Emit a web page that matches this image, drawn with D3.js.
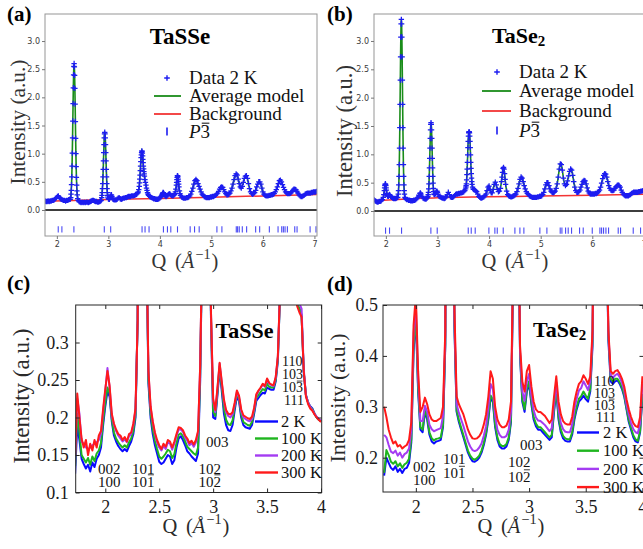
<!DOCTYPE html>
<html>
<head>
<meta charset="utf-8">
<script src="https://cdn.jsdelivr.net/npm/d3@7"></script>
<style>
  body { margin: 0; background: #fff; }
  svg { display: block; }
</style>
</head>
<body>
<svg id="fig" width="643" height="549"></svg>
<script>
// ---------- Rietveld refinement, 2 K : TaSSe ----------
const tasseObs = [
[1.77,.16],[1.79,.15],[1.81,.15],[1.83,.16],[1.85,.15],[1.87,.16],[1.89,.16],[1.91,.17],[1.93,.17],[1.95,.18],
[1.97,.20],[1.99,.22],[2.01,.24],[2.03,.25],[2.05,.22],[2.07,.20],[2.09,.19],[2.11,.18],[2.13,.17],[2.15,.17],
[2.17,.16],[2.19,.17],[2.21,.17],[2.23,.18],[2.25,.19],[2.26,.19],[2.27,.22],[2.275,.28],[2.28,.35],[2.285,.45],
[2.29,.59],[2.295,.78],[2.30,1.01],[2.305,1.28],[2.31,1.58],[2.315,1.89],[2.32,2.17],[2.325,2.40],[2.33,2.55],[2.335,2.60],
[2.34,2.54],[2.345,2.39],[2.35,2.16],[2.355,1.88],[2.36,1.57],[2.365,1.27],[2.37,1.00],[2.375,.77],[2.38,.58],[2.385,.44],
[2.39,.34],[2.395,.27],[2.405,.20],[2.415,.17],[2.43,.15],[2.45,.14],[2.47,.13],[2.49,.14],[2.51,.13],[2.53,.14],
[2.55,.13],[2.57,.14],[2.59,.14],[2.61,.13],[2.63,.14],[2.65,.15],[2.67,.16],[2.69,.17],[2.71,.17],[2.73,.16],
[2.75,.15],[2.77,.15],[2.79,.14],[2.81,.14],[2.83,.15],[2.85,.16],[2.86,.17],[2.87,.22],[2.875,.26],[2.88,.31],
[2.885,.38],[2.89,.47],[2.895,.59],[2.90,.72],[2.905,.87],[2.91,1.02],[2.915,1.16],[2.92,1.28],[2.925,1.35],[2.93,1.38],
[2.935,1.35],[2.94,1.28],[2.945,1.16],[2.95,1.02],[2.955,.87],[2.96,.72],[2.965,.59],[2.97,.47],[2.975,.38],[2.98,.31],
[2.985,.26],[2.99,.23],[3.00,.20],[3.01,.19],[3.02,.19],[3.03,.21],[3.04,.24],[3.05,.27],[3.06,.27],[3.07,.24],
[3.08,.21],[3.09,.19],[3.11,.18],[3.13,.18],[3.15,.18],[3.17,.19],[3.19,.21],[3.21,.22],[3.23,.20],[3.25,.19],
[3.27,.20],[3.29,.21],[3.31,.21],[3.33,.22],[3.35,.22],[3.37,.23],[3.39,.24],[3.41,.24],[3.43,.24],[3.45,.25],
[3.47,.25],[3.49,.25],[3.51,.26],[3.53,.27],[3.55,.28],[3.57,.30],[3.58,.32],[3.59,.36],[3.60,.42],[3.605,.48],
[3.61,.55],[3.615,.62],[3.62,.70],[3.625,.78],[3.63,.86],[3.635,.93],[3.64,.98],[3.645,1.02],[3.65,1.05],[3.655,1.04],
[3.66,1.01],[3.665,.96],[3.67,.90],[3.675,.84],[3.68,.78],[3.685,.73],[3.69,.68],[3.695,.64],[3.70,.60],[3.71,.54],
[3.72,.49],[3.73,.44],[3.74,.39],[3.75,.35],[3.76,.31],[3.77,.28],[3.78,.26],[3.80,.24],[3.82,.23],[3.84,.22],
[3.86,.21],[3.88,.20],[3.90,.20],[3.92,.19],[3.94,.19],[3.96,.19],[3.98,.20],[4.00,.21],[4.02,.23],[4.03,.25],
[4.04,.27],[4.05,.29],[4.06,.31],[4.07,.31],[4.08,.29],[4.09,.27],[4.10,.25],[4.12,.24],[4.14,.25],[4.16,.27],
[4.18,.29],[4.20,.28],[4.22,.26],[4.24,.25],[4.26,.25],[4.28,.27],[4.29,.29],[4.30,.32],[4.31,.37],[4.32,.44],
[4.325,.49],[4.33,.54],[4.335,.58],[4.34,.61],[4.345,.61],[4.35,.59],[4.355,.55],[4.36,.51],[4.365,.46],[4.37,.41],
[4.38,.34],[4.39,.29],[4.40,.26],[4.42,.23],[4.44,.22],[4.46,.21],[4.48,.21],[4.50,.21],[4.52,.22],[4.54,.22],
[4.56,.23],[4.58,.25],[4.60,.28],[4.62,.33],[4.64,.39],[4.66,.46],[4.68,.52],[4.70,.54],[4.72,.52],[4.74,.47],
[4.76,.42],[4.78,.37],[4.80,.32],[4.82,.28],[4.84,.26],[4.86,.24],[4.88,.23],[4.90,.22],[4.92,.22],[4.94,.22],
[4.96,.22],[4.98,.23],[5.00,.23],[5.02,.24],[5.04,.24],[5.06,.25],[5.08,.26],[5.10,.28],[5.12,.30],[5.14,.33],
[5.16,.37],[5.18,.40],[5.20,.41],[5.22,.40],[5.24,.36],[5.26,.32],[5.28,.29],[5.30,.27],[5.32,.27],[5.34,.28],
[5.36,.30],[5.38,.34],[5.40,.39],[5.42,.46],[5.44,.54],[5.46,.61],[5.48,.64],[5.50,.62],[5.52,.55],[5.54,.47],
[5.56,.41],[5.58,.39],[5.60,.42],[5.62,.49],[5.64,.56],[5.66,.60],[5.68,.61],[5.70,.56],[5.72,.47],[5.74,.38],
[5.76,.32],[5.78,.29],[5.80,.28],[5.82,.29],[5.84,.31],[5.86,.35],[5.88,.41],[5.90,.46],[5.92,.50],[5.94,.50],
[5.96,.46],[5.98,.39],[6.00,.32],[6.02,.28],[6.04,.26],[6.06,.25],[6.08,.25],[6.10,.25],[6.12,.26],[6.14,.26],
[6.16,.27],[6.18,.27],[6.20,.28],[6.22,.29],[6.24,.32],[6.26,.36],[6.28,.41],[6.30,.47],[6.32,.52],[6.34,.53],
[6.36,.50],[6.38,.45],[6.40,.40],[6.42,.36],[6.44,.32],[6.46,.30],[6.48,.29],[6.50,.29],[6.52,.29],[6.54,.30],
[6.56,.32],[6.58,.35],[6.60,.37],[6.62,.37],[6.64,.36],[6.66,.33],[6.68,.30],[6.70,.27],[6.72,.25],[6.74,.24],
[6.76,.24],[6.78,.25],[6.80,.26],[6.82,.28],[6.84,.29],[6.86,.30],[6.88,.30],[6.90,.30],[6.92,.30],[6.94,.31],
[6.96,.31],[6.98,.32],[7.00,.32],[7.02,.32],[7.04,.33]
];
const tasseBackground = [[1.77,.155],[3,.185],[4,.205],[5,.225],[6,.25],[7.05,.275]];
const tasseBragg = [2.027,2.098,2.331,2.921,3.045,3.654,3.712,3.790,4.069,4.147,4.212,4.342,4.588,4.673,4.763,
  5.107,5.204,5.483,5.509,5.541,5.600,5.684,5.859,5.937,6.125,6.294,6.365,6.397,6.430,6.475,6.618,6.663,6.916,7.030];

// ---------- Rietveld refinement, 2 K : TaSe2 ----------
const tase2Obs = [
[1.77,.20],[1.79,.18],[1.81,.17],[1.83,.16],[1.85,.16],[1.87,.17],[1.89,.17],[1.91,.18],[1.93,.20],[1.95,.24],
[1.96,.29],[1.97,.36],[1.975,.41],[1.98,.45],[1.985,.47],[1.99,.48],[1.995,.47],[2.00,.45],[2.005,.41],[2.01,.37],
[2.02,.31],[2.03,.27],[2.04,.26],[2.05,.26],[2.06,.28],[2.07,.29],[2.08,.28],[2.09,.26],[2.11,.24],[2.13,.23],
[2.15,.22],[2.17,.22],[2.19,.22],[2.21,.23],[2.225,.24],[2.23,.24],[2.24,.30],[2.245,.36],[2.25,.46],[2.255,.61],
[2.26,.82],[2.265,1.11],[2.27,1.47],[2.275,1.88],[2.28,2.31],[2.285,2.72],[2.29,3.07],[2.295,3.30],[2.30,3.38],[2.305,3.30],
[2.31,3.07],[2.315,2.72],[2.32,2.31],[2.325,1.88],[2.33,1.47],[2.335,1.11],[2.34,.82],[2.345,.61],[2.35,.46],[2.355,.36],
[2.36,.30],[2.37,.24],[2.38,.22],[2.40,.20],[2.42,.20],[2.44,.19],[2.46,.19],[2.48,.18],[2.50,.18],[2.52,.18],
[2.54,.19],[2.56,.19],[2.58,.20],[2.60,.22],[2.62,.24],[2.64,.28],[2.66,.31],[2.67,.32],[2.68,.30],[2.70,.26],
[2.72,.23],[2.74,.22],[2.76,.21],[2.78,.21],[2.80,.23],[2.81,.25],[2.815,.26],[2.82,.29],[2.825,.33],[2.83,.39],
[2.835,.48],[2.84,.61],[2.845,.76],[2.85,.93],[2.855,1.11],[2.86,1.28],[2.865,1.43],[2.87,1.53],[2.875,1.56],[2.88,1.53],
[2.885,1.43],[2.89,1.28],[2.895,1.11],[2.90,.93],[2.905,.76],[2.91,.61],[2.915,.49],[2.92,.40],[2.925,.34],[2.93,.30],
[2.94,.29],[2.95,.29],[2.96,.31],[2.97,.33],[2.98,.35],[2.99,.35],[3.00,.33],[3.01,.30],[3.03,.26],[3.05,.25],
[3.07,.24],[3.09,.23],[3.11,.23],[3.13,.22],[3.15,.23],[3.17,.25],[3.19,.29],[3.21,.33],[3.23,.29],[3.25,.25],
[3.27,.24],[3.29,.24],[3.31,.25],[3.33,.27],[3.35,.29],[3.37,.30],[3.39,.30],[3.41,.31],[3.43,.31],[3.45,.32],
[3.47,.32],[3.49,.33],[3.51,.34],[3.53,.36],[3.545,.39],[3.55,.42],[3.555,.45],[3.56,.48],[3.565,.55],[3.57,.64],
[3.575,.74],[3.58,.86],[3.585,.99],[3.59,1.12],[3.595,1.23],[3.60,1.32],[3.605,1.38],[3.61,1.40],[3.615,1.40],[3.62,1.38],
[3.625,1.32],[3.63,1.23],[3.635,1.12],[3.64,.99],[3.645,.86],[3.65,.75],[3.655,.66],[3.66,.58],[3.665,.52],[3.67,.47],
[3.68,.42],[3.69,.39],[3.70,.38],[3.72,.37],[3.74,.36],[3.76,.34],[3.78,.30],[3.80,.26],[3.82,.24],[3.84,.23],
[3.86,.23],[3.88,.24],[3.90,.25],[3.92,.27],[3.94,.30],[3.96,.36],[3.98,.42],[4.00,.44],[4.02,.38],[4.04,.32],
[4.06,.32],[4.08,.38],[4.10,.47],[4.12,.51],[4.14,.46],[4.16,.38],[4.18,.34],[4.20,.35],[4.22,.40],[4.24,.52],
[4.25,.60],[4.26,.68],[4.27,.75],[4.28,.77],[4.29,.74],[4.30,.66],[4.31,.56],[4.32,.47],[4.34,.35],[4.36,.29],
[4.38,.27],[4.40,.26],[4.42,.25],[4.44,.25],[4.46,.26],[4.48,.27],[4.50,.28],[4.52,.30],[4.54,.34],[4.56,.40],
[4.58,.48],[4.60,.56],[4.62,.60],[4.64,.58],[4.66,.52],[4.68,.45],[4.70,.39],[4.72,.34],[4.74,.31],[4.76,.29],
[4.78,.27],[4.80,.26],[4.82,.25],[4.84,.24],[4.86,.24],[4.88,.24],[4.90,.24],[4.92,.24],[4.94,.25],[4.96,.25],
[4.98,.26],[5.00,.26],[5.02,.27],[5.04,.29],[5.06,.33],[5.08,.39],[5.10,.46],[5.12,.50],[5.14,.50],[5.16,.45],
[5.18,.39],[5.20,.35],[5.22,.33],[5.24,.32],[5.26,.33],[5.28,.35],[5.30,.40],[5.32,.48],[5.34,.60],[5.36,.74],
[5.38,.83],[5.40,.82],[5.42,.72],[5.44,.58],[5.46,.48],[5.48,.45],[5.50,.47],[5.52,.53],[5.54,.62],[5.56,.70],
[5.58,.74],[5.60,.72],[5.62,.63],[5.64,.52],[5.66,.42],[5.68,.36],[5.70,.33],[5.72,.33],[5.74,.34],[5.76,.37],
[5.78,.42],[5.80,.47],[5.82,.52],[5.84,.54],[5.86,.53],[5.88,.48],[5.90,.41],[5.92,.35],[5.94,.32],[5.96,.30],
[5.98,.30],[6.00,.30],[6.02,.30],[6.04,.30],[6.06,.31],[6.08,.31],[6.10,.32],[6.12,.34],[6.14,.37],[6.16,.42],
[6.18,.49],[6.20,.57],[6.22,.63],[6.24,.66],[6.26,.65],[6.28,.60],[6.30,.52],[6.32,.45],[6.34,.40],[6.36,.37],
[6.38,.36],[6.40,.36],[6.42,.37],[6.44,.40],[6.46,.43],[6.48,.45],[6.50,.46],[6.52,.45],[6.54,.42],[6.56,.37],
[6.58,.33],[6.60,.30],[6.62,.28],[6.64,.27],[6.66,.27],[6.68,.27],[6.70,.27],[6.72,.28],[6.74,.29],[6.76,.31],
[6.78,.32],[6.80,.33],[6.82,.33],[6.84,.33],[6.86,.33],[6.88,.33],[6.90,.34],[6.92,.34],[6.94,.35],[6.96,.35],
[6.98,.36],[7.00,.36],[7.02,.37],[7.04,.37]
];
const tase2Background = [[1.77,.18],[2.5,.215],[3,.235],[4,.25],[5,.265],[6,.28],[7.05,.295]];
const tase2Bragg = [1.994,2.071,2.304,2.872,2.995,3.596,3.654,3.731,3.996,4.112,4.158,4.274,4.500,4.597,4.674,
  4.984,5.120,5.378,5.411,5.482,5.533,5.598,5.753,5.824,5.999,6.147,6.180,6.218,6.264,6.315,6.502,6.547,6.793,6.935];

const refTicksX = [2, 3, 4, 5, 6, 7];
const refTicksY = [0, 0.5, 1.0, 1.5, 2.0, 2.5, 3.0];
const refLegendLabels = ["Data 2 K", "Average model", "Background"];

// ---------- temperature dependence (common Q grid, step 0.02 from 1.72 to 4.00) ----------
const qGrid = d3.range(115).map(i => +(1.72 + 0.02 * i).toFixed(2));
const tempLabels = ["2 K", "100 K", "200 K", "300 K"];

const tasse2K = [.125,.190,.170,.145,.138,.132,.137,.128,.140,.134,.145,.150,.160,.190,.215,.235,.228,.195,.176,.168,
  .162,.158,.155,.158,.155,.162,.168,.178,.200,.330,1.2,2.5,1.3,.450,.245,.200,.178,.163,.152,.141,
  .138,.140,.145,.150,.148,.138,.143,.160,.172,.175,.170,.163,.155,.152,.148,.145,.142,.152,.250,.450,
  1.3,1.1,.550,.330,.200,.198,.230,.265,.235,.205,.190,.183,.182,.190,.210,.228,.222,.200,.190,.187,
  .186,.185,.190,.205,.222,.226,.230,.233,.232,.240,.238,.237,.237,.248,.275,.365,.800,1.0,.850,.650,
  .500,.420,.370,.350,.345,.335,.260,.230,.220,.215,.212,.205,.200,.197,.195];
const tasse100K = [.135,.205,.180,.150,.145,.140,.146,.137,.148,.142,.152,.156,.166,.195,.220,.240,.232,.198,.180,.172,
  .167,.163,.160,.163,.160,.167,.172,.182,.204,.330,1.2,2.5,1.3,.450,.250,.205,.184,.169,.158,.148,
  .145,.148,.152,.157,.155,.146,.151,.166,.177,.179,.175,.168,.161,.158,.155,.152,.150,.160,.260,.450,
  1.3,1.1,.550,.335,.208,.202,.234,.268,.240,.212,.197,.191,.190,.196,.214,.231,.225,.204,.194,.192,
  .190,.189,.194,.208,.226,.230,.234,.238,.236,.245,.241,.240,.240,.250,.278,.365,.800,1.0,.850,.650,
  .500,.420,.370,.350,.346,.337,.262,.230,.220,.214,.211,.205,.200,.197,.195];
const tasse200K = [.140,.225,.205,.168,.165,.160,.158,.160,.163,.165,.167,.170,.178,.208,.236,.266,.240,.203,.190,.182,
  .176,.172,.168,.171,.167,.175,.178,.190,.210,.330,1.2,2.5,1.3,.450,.260,.213,.193,.178,.167,.160,
  .156,.162,.158,.167,.165,.157,.165,.175,.184,.184,.181,.173,.169,.163,.166,.161,.167,.180,.270,.450,
  1.3,1.1,.550,.340,.222,.207,.238,.272,.246,.221,.207,.202,.200,.204,.217,.234,.227,.208,.200,.198,
  .196,.195,.198,.211,.229,.235,.239,.244,.241,.251,.245,.243,.242,.253,.281,.370,.800,1.0,.850,.650,
  .500,.420,.375,.355,.352,.345,.265,.230,.220,.214,.210,.205,.201,.198,.196];
const tasse300K = [.150,.232,.200,.172,.160,.170,.150,.165,.156,.170,.160,.176,.182,.212,.238,.262,.242,.205,.192,.184,
  .178,.176,.170,.174,.168,.178,.180,.192,.212,.330,1.2,2.5,1.3,.450,.262,.215,.195,.180,.170,.163,
  .158,.165,.161,.170,.168,.160,.168,.178,.187,.186,.183,.176,.172,.166,.169,.164,.170,.182,.270,.450,
  1.3,1.1,.550,.340,.225,.210,.240,.273,.248,.224,.210,.205,.204,.207,.220,.236,.229,.211,.203,.201,
  .199,.198,.201,.213,.231,.236,.240,.245,.242,.252,.246,.244,.243,.254,.282,.370,.800,1.0,.850,.650,
  .500,.420,.370,.348,.340,.334,.262,.228,.218,.212,.209,.204,.200,.197,.194];

const tase22K = [.165,.200,.190,.180,.176,.183,.172,.178,.170,.178,.180,.190,.230,.410,.475,.330,.255,.250,.290,.275,
  .245,.232,.228,.232,.233,.235,.260,.420,1.75,3.38,1.95,.460,.290,.270,.255,.240,.225,.210,.200,.193,
  .192,.195,.200,.210,.225,.245,.275,.317,.310,.260,.235,.222,.218,.218,.222,.235,.270,.580,1.55,.780,
  .400,.310,.290,.330,.345,.305,.275,.262,.255,.255,.250,.245,.240,.235,.240,.290,.332,.275,.250,.238,
  .233,.232,.232,.245,.275,.295,.310,.315,.322,.315,.310,.330,.420,.880,1.28,1.36,1.18,.880,.680,.430,
  .350,.345,.350,.352,.345,.335,.320,.295,.270,.255,.240,.232,.230,.250,.320];
const tase2100K = [.170,.215,.205,.192,.188,.193,.183,.189,.180,.187,.190,.198,.237,.420,.480,.338,.260,.255,.295,.280,
  .250,.238,.234,.237,.238,.240,.265,.425,1.76,3.38,1.96,.470,.293,.274,.259,.244,.229,.214,.204,.198,
  .196,.199,.204,.214,.229,.249,.280,.322,.315,.265,.240,.227,.223,.223,.227,.240,.275,.580,1.56,.785,
  .405,.315,.295,.335,.350,.310,.280,.267,.260,.260,.255,.250,.245,.240,.245,.295,.336,.280,.255,.243,
  .238,.236,.236,.250,.280,.300,.316,.321,.330,.322,.316,.336,.430,.885,1.285,1.365,1.185,.885,.685,.440,
  .355,.350,.355,.355,.348,.338,.323,.298,.274,.259,.244,.236,.233,.253,.325];
const tase2200K = [.245,.240,.225,.212,.209,.214,.204,.210,.200,.207,.210,.218,.255,.445,.500,.355,.272,.272,.302,.290,
  .265,.256,.252,.254,.256,.258,.282,.440,1.78,3.39,1.98,.480,.305,.288,.275,.262,.247,.232,.222,.215,
  .213,.215,.220,.228,.243,.262,.297,.345,.335,.282,.255,.245,.240,.240,.243,.255,.290,.590,1.58,.790,
  .410,.330,.312,.350,.365,.322,.293,.279,.273,.272,.268,.264,.258,.252,.258,.305,.348,.295,.268,.256,
  .251,.250,.250,.265,.295,.316,.332,.337,.350,.342,.333,.350,.440,.890,1.29,1.37,1.19,.890,.690,.445,
  .362,.357,.362,.365,.358,.347,.332,.305,.285,.268,.256,.250,.248,.268,.345];
const tase2300K = [.300,.280,.255,.240,.228,.232,.222,.225,.218,.222,.225,.235,.270,.460,.520,.370,.290,.300,.318,.305,
  .285,.275,.272,.272,.275,.278,.300,.450,1.80,3.40,2.00,.500,.320,.305,.295,.285,.270,.255,.245,.238,
  .237,.238,.242,.250,.265,.285,.320,.370,.355,.300,.275,.265,.260,.260,.263,.275,.310,.600,1.60,.800,
  .420,.350,.330,.370,.382,.340,.310,.295,.290,.290,.286,.282,.275,.268,.275,.320,.360,.310,.285,.272,
  .267,.265,.265,.280,.310,.330,.345,.350,.362,.355,.345,.360,.450,.900,1.30,1.38,1.20,.900,.700,.450,
  .370,.365,.370,.372,.365,.355,.340,.315,.295,.280,.268,.262,.260,.280,.360];

const hklTaSSe = { low: [["002","100"], ["101","10-1"], ["102","10-2"]], single: ["003"], high: ["110","103","10-3","111"] };
const hklTaSe2 = { low: [["002","100"], ["101","10-1"], ["102","10-2"]], single: ["003"], high: ["110","103","10-3","111"] };

// ---------- drawing ----------
const svg = d3.select("#fig");
const SERIF = '"Liberation Serif", "Times New Roman", Times, serif';
const SANS = '"DejaVu Sans", sans-serif';
const TEMP_COLORS = ["#0a0aff", "#1fb51f", "#a43cf2", "#ff1a1a"];
let clipCount = 0;

function addClip(x0, y0, w, h) {
  const id = "clip" + (clipCount++);
  svg.append("clipPath").attr("id", id).append("rect")
    .attr("x", x0).attr("y", y0).attr("width", w).attr("height", h);
  return "url(#" + id + ")";
}

// draws an overline above selected characters of a text element
function overline(g, textSel, indices, baseY, size, color) {
  const node = textSel.node();
  indices.forEach(k => {
    const r = node.getExtentOfChar(k);
    g.append("line")
      .attr("x1", r.x + size * 0.06).attr("x2", r.x + r.width - size * 0.04)
      .attr("y1", baseY - size * 0.78).attr("y2", baseY - size * 0.78)
      .attr("stroke", color).attr("stroke-width", Math.max(0.8, size * 0.055));
  });
}

// Miller index label: "-" before a digit puts a bar over that digit
function hklLabel(g, x, y, str, size) {
  let plain = "", bars = [];
  for (let i = 0; i < str.length; i++) {
    if (str[i] === "-") { i++; bars.push(plain.length); }
    plain += str[i];
  }
  const t = g.append("text").attr("x", x).attr("y", y)
    .attr("font-family", SERIF).attr("font-size", size).attr("fill", "#111").text(plain);
  overline(g, t, bars, y, size, "#111");
}

function qLabel(g, cx, by, size, fill) {
  const t = g.append("text").attr("x", cx).attr("y", by).attr("text-anchor", "middle")
    .attr("font-family", SERIF).attr("font-size", size).attr("fill", fill);
  t.append("tspan").text("Q");
  t.append("tspan").attr("dx", size * 0.42).text("(");
  t.append("tspan").attr("font-style", "italic").text("\u00C5");
  t.append("tspan").attr("font-size", size * 0.7).attr("dy", -size * 0.42).attr("dx", 1).text("\u22121");
  t.append("tspan").attr("dy", size * 0.42).attr("dx", 1).text(")");
}

function yLabel(g, x, cy, size, fill) {
  g.append("text").attr("transform", `translate(${x},${cy}) rotate(-90)`)
    .attr("text-anchor", "middle").attr("font-family", SERIF).attr("font-size", size)
    .attr("fill", fill).text("Intensity (a.u.)");
}

function compound(g, x, y, size, anchor, name, sub) {
  const t = g.append("text").attr("x", x).attr("y", y).attr("text-anchor", anchor)
    .attr("font-family", SERIF).attr("font-weight", "bold").attr("font-size", size).attr("fill", "#000");
  t.append("tspan").text(name);
  if (sub) t.append("tspan").attr("font-size", size * 0.68).attr("dy", size * 0.14).text(sub);
}

function panelLetter(x, y, s) {
  svg.append("text").attr("x", x).attr("y", y).attr("font-family", SERIF)
    .attr("font-weight", "bold").attr("font-size", 21).attr("fill", "#000").text(s);
}

// ---------- refinement panels (a), (b) ----------
function refinementPanel(o) {
  const g = svg.append("g");
  const x = d3.scaleLinear().domain([1.77, 7.05]).range([o.x0, o.x1]);
  const y = d3.scaleLinear().domain(o.yDomain).range([236, 14]);
  const clip = addClip(o.x0, 14, o.x1 - o.x0, 222);
  const body = g.append("g").attr("clip-path", clip);

  // zero line
  body.append("line").attr("x1", o.x0).attr("x2", o.x1).attr("y1", y(0)).attr("y2", y(0))
    .attr("stroke", "#3d3d3d").attr("stroke-width", 2);

  // reflection markers
  body.append("g").selectAll("line").data(o.bragg).join("line")
    .attr("x1", d => x(d)).attr("x2", d => x(d))
    .attr("y1", y(-0.29)).attr("y2", y(-0.40))
    .attr("stroke", "#4a4af5").attr("stroke-width", 1.1);

  const line = d3.line().x(d => x(d[0])).y(d => y(d[1]));
  // background
  body.append("path").attr("d", line.curve(d3.curveMonotoneX)(o.bg))
    .attr("fill", "none").attr("stroke", "#f23434").attr("stroke-width", 1.5);
  // average model
  body.append("path").attr("d", d3.line().x(d => x(d[0])).y(d => y(d[1]))(o.obs))
    .attr("fill", "none").attr("stroke", "#198c19").attr("stroke-width", 1.6);
  // observed data as "+" markers
  const a = 2.7;
  body.append("path")
    .attr("d", o.obs.map(([q, v]) => `M${x(q) - a},${y(v)}h${2 * a}M${x(q)},${y(v) - a}v${2 * a}`).join(""))
    .attr("fill", "none").attr("stroke", "#1c1cf0").attr("stroke-width", 1.25);

  // frame
  g.append("rect").attr("x", o.x0).attr("y", 14).attr("width", o.x1 - o.x0).attr("height", 222)
    .attr("fill", "none").attr("stroke", "#969696").attr("stroke-width", 1);

  // axes
  const ax = g.append("g").attr("transform", "translate(0,236)")
    .call(d3.axisBottom(x).tickValues(refTicksX).tickSize(3).tickPadding(2).tickFormat(d3.format("d")));
  const ay = g.append("g").attr("transform", `translate(${o.x0},0)`)
    .call(d3.axisLeft(y).tickValues(refTicksY).tickSize(3).tickPadding(2).tickFormat(d3.format(".1f")));
  [ax, ay].forEach(s => {
    s.select(".domain").remove();
    s.selectAll("line").attr("stroke", "#777");
    s.selectAll("text").attr("font-family", SANS).attr("font-size", 8).attr("fill", "#3a3a3a");
  });

  // legend
  const L = o.legend;
  const lg = g.append("g");
  lg.append("path").attr("d", `M${L.mx - 2.8},${L.rows[0] - 6}h5.6M${L.mx},${L.rows[0] - 8.8}v5.6`)
    .attr("stroke", "#1c1cf0").attr("stroke-width", 1.4);
  lg.append("line").attr("x1", L.l0).attr("x2", L.l1).attr("y1", L.rows[1] - 6).attr("y2", L.rows[1] - 6)
    .attr("stroke", "#198c19").attr("stroke-width", 1.8);
  lg.append("line").attr("x1", L.l0).attr("x2", L.l1).attr("y1", L.rows[2] - 6).attr("y2", L.rows[2] - 6)
    .attr("stroke", "#f23434").attr("stroke-width", 1.8);
  lg.append("line").attr("x1", L.mx).attr("x2", L.mx).attr("y1", L.rows[3] - 10.5).attr("y2", L.rows[3] - 2.5)
    .attr("stroke", "#1c1cf0").attr("stroke-width", 1.6);
  refLegendLabels.forEach((s, i) => {
    lg.append("text").attr("x", L.tx).attr("y", L.rows[i]).attr("font-family", SERIF)
      .attr("font-size", 19).attr("fill", "#111").text(s);
  });
  const sg = lg.append("text").attr("x", L.tx).attr("y", L.rows[3]).attr("font-family", SERIF)
    .attr("font-size", 19).attr("fill", "#111");
  sg.append("tspan").attr("font-style", "italic").text("P");
  sg.append("tspan").text("3");
  overline(lg, sg, [1], L.rows[3], 19, "#111");

  compound(g, o.title.x, o.title.y, o.title.size, o.title.anchor, o.title.name, o.title.sub);
  yLabel(g, o.ylab.x, o.ylab.y, o.ylab.size, "#333");
  qLabel(g, o.xlab.x, 268, 20.5, "#333");
}

refinementPanel({
  x0: 45, x1: 317, yDomain: [-0.462, 3.48],
  obs: tasseObs, bg: tasseBackground, bragg: tasseBragg,
  legend: { mx: 167, l0: 154, l1: 181, tx: 189, rows: [84, 102, 120, 138] },
  title: { x: 180, y: 44, size: 23, anchor: "middle", name: "TaSSe" },
  ylab: { x: 25, y: 122, size: 21.3 },
  xlab: { x: 185 }
});
refinementPanel({
  x0: 374, x1: 646.5, yDomain: [-0.441, 3.476],
  obs: tase2Obs, bg: tase2Background, bragg: tase2Bragg,
  legend: { mx: 497, l0: 482, l1: 511, tx: 519, rows: [78, 97, 117, 137] },
  title: { x: 492, y: 43, size: 22, anchor: "start", name: "TaSe", sub: "2" },
  ylab: { x: 352, y: 131, size: 22.5 },
  xlab: { x: 515 }
});

// ---------- temperature panels (c), (d) ----------
function temperaturePanel(o) {
  const g = svg.append("g");
  const x = d3.scaleLinear().domain(o.xDomain).range([o.x0, o.x1]);
  const y = d3.scaleLinear().domain(o.yDomain).range([o.y1, o.y0]);
  const clip = addClip(o.x0, o.y0, o.x1 - o.x0, o.y1 - o.y0);
  const body = g.append("g").attr("clip-path", clip);
  const line = d3.line().x((d, i) => x(qGrid[i])).y(d => y(d));
  o.series.forEach((s, k) => {
    body.append("path").attr("d", line(s)).attr("fill", "none")
      .attr("stroke", TEMP_COLORS[k]).attr("stroke-width", 2).attr("stroke-linejoin", "round");
  });

  g.append("rect").attr("x", o.x0).attr("y", o.y0).attr("width", o.x1 - o.x0).attr("height", o.y1 - o.y0)
    .attr("fill", "none").attr("stroke", "#262626").attr("stroke-width", 1);

  const fmt = d => String(d);
  const axB = g.append("g").attr("transform", `translate(0,${o.y1})`)
    .call(d3.axisBottom(x).tickValues(o.xTicks).tickSize(-4).tickPadding(8).tickFormat(fmt));
  const axL = g.append("g").attr("transform", `translate(${o.x0},0)`)
    .call(d3.axisLeft(y).tickValues(o.yTicks).tickSize(-4).tickPadding(o.yPad).tickFormat(fmt));
  const axT = g.append("g").attr("transform", `translate(0,${o.y0})`)
    .call(d3.axisTop(x).tickValues(o.xTicks).tickSize(-4).tickFormat(""));
  const axR = g.append("g").attr("transform", `translate(${o.x1},0)`)
    .call(d3.axisRight(y).tickValues(o.yTicks).tickSize(-4).tickFormat(""));
  [axB, axL, axT, axR].forEach(s => {
    s.select(".domain").remove();
    s.selectAll("line").attr("stroke", "#262626");
    s.selectAll("text").attr("font-family", SERIF).attr("font-size", 18).attr("fill", "#1a1a1a");
  });

  // reflection indices
  o.hkl.low.forEach((rows, i) => {
    rows.forEach((s, r) => hklLabel(g, o.lowPos[i][0], o.lowPos[i][1] + r * o.lowPos[i][2], s, 15));
  });
  hklLabel(g, o.singlePos[0], o.singlePos[1], o.hkl.single[0], 15);
  o.hkl.high.forEach((s, r) => hklLabel(g, o.highPos[0] + (r === 3 ? 2 : 0), o.highPos[1] + r * o.highPos[2], s, 14));

  // legend
  tempLabels.forEach((s, k) => {
    const yy = o.leg.y + k * o.leg.dy;
    g.append("line").attr("x1", o.leg.l0).attr("x2", o.leg.l1).attr("y1", yy).attr("y2", yy)
      .attr("stroke", TEMP_COLORS[k]).attr("stroke-width", 2.4);
    g.append("text").attr("x", o.leg.tx).attr("y", yy + 5.6).attr("font-family", SERIF)
      .attr("font-size", 16.5).attr("fill", "#111").text(s);
  });

  compound(g, o.title.x, o.title.y, 22, o.title.anchor, o.title.name, o.title.sub);
  yLabel(g, o.ylab.x, o.ylab.y, o.ylab.size, "#2a2a2a");
  qLabel(g, o.xlab, 533, 20.5, "#2a2a2a");
}

temperaturePanel({
  x0: 75.7, x1: 321.7, y0: 305, y1: 492.5,
  xDomain: [1.7255, 4.0065], yDomain: [0.1, 0.35],
  xTicks: [2, 2.5, 3, 3.5, 4], yTicks: [0.1, 0.15, 0.2, 0.25, 0.3], yPad: 7,
  series: [tasse2K, tasse100K, tasse200K, tasse300K],
  hkl: hklTaSSe,
  lowPos: [[98, 473.5, 13], [132, 473.5, 13], [198.5, 473.5, 13]],
  singlePos: [206, 447], highPos: [282, 366, 13],
  leg: { l0: 255, l1: 278, tx: 281, y: 421.5, dy: 17 },
  title: { x: 244.5, y: 338, anchor: "middle", name: "TaSSe" },
  ylab: { x: 29, y: 396, size: 23 },
  xlab: 196
});
temperaturePanel({
  x0: 383, x1: 643.5, y0: 305, y1: 492,
  xDomain: [1.71, 4.01], yDomain: [0.1326, 0.5],
  xTicks: [2, 2.5, 3, 3.5, 4], yTicks: [0.2, 0.3, 0.4, 0.5], yPad: 5,
  series: [tase22K, tase2100K, tase2200K, tase2300K],
  hkl: hklTaSe2,
  lowPos: [[413, 471.5, 13.5], [443, 463.5, 14.5], [508, 467, 14.5]],
  singlePos: [520, 450], highPos: [594, 386, 12],
  leg: { l0: 577, l1: 599, tx: 603, y: 432.5, dy: 18.2 },
  title: { x: 533, y: 337, anchor: "start", name: "TaSe", sub: "2" },
  ylab: { x: 345, y: 398, size: 22 },
  xlab: 511
});

panelLetter(7, 21, "(a)");
panelLetter(327, 21, "(b)");
panelLetter(7, 290, "(c)");
panelLetter(327, 291, "(d)");
</script>
</body>
</html>
